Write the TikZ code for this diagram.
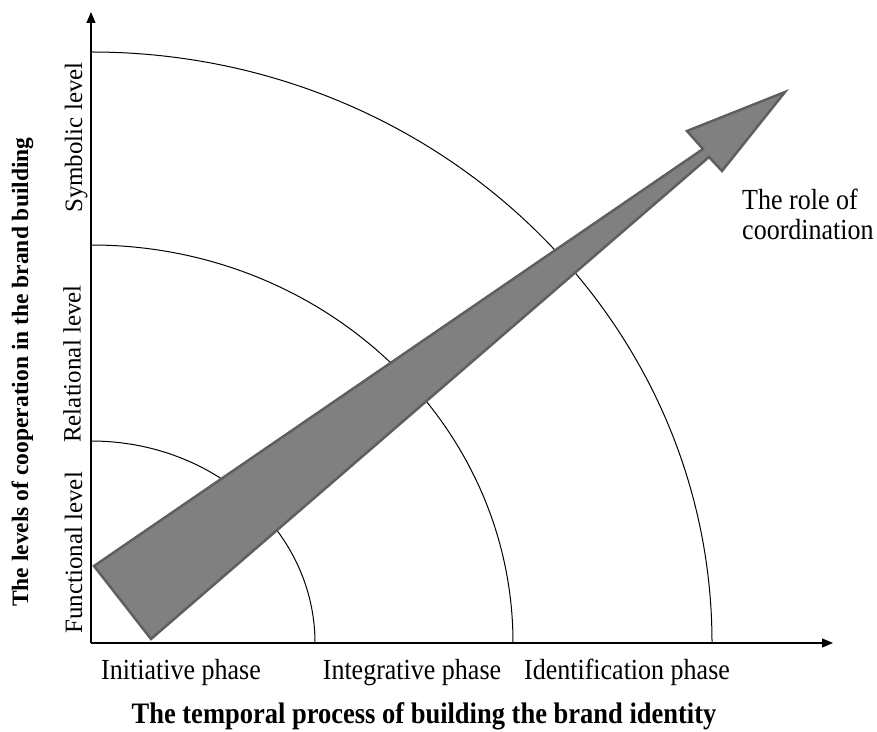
\documentclass[tikz,border=0pt]{standalone}
\usepackage{fontspec}
\setmainfont{Liberation Serif}
\usetikzlibrary{arrows.meta}
\definecolor{arrowfill}{HTML}{808080}
\definecolor{arrowline}{HTML}{5F5F5F}
\begin{document}
\begin{tikzpicture}[x=1pt,y=1pt,
  axisline/.style={line width=1.2pt,-{Triangle[length=11pt,width=9pt]}},
  arcline/.style={line width=1pt},
  lbl/.style={font=\fontsize{26}{31}\selectfont,inner sep=0pt,yscale=1.12},
  vlbl/.style={font=\fontsize{25}{30}\selectfont,inner sep=0pt,rotate=90},
  ttl/.style={font=\fontsize{26.5}{31}\selectfont\bfseries,inner sep=0pt,yscale=1.12},
  vttl/.style={font=\fontsize{23.5}{28}\selectfont\bfseries,inner sep=0pt,rotate=90},
  bigarrow/.style={fill=arrowfill,draw=arrowline,line width=2.5pt,line join=miter}]
\useasboundingbox (0,0) rectangle (877,731);
% origin at pixel (91,643) -> (91,88)
\coordinate (O) at (91,88);
\coordinate (xend) at (833,88);
\coordinate (yend) at (91,719);
\draw[axisline] (O) -- (xend);
\draw[axisline] (O) -- (yend);
% arcs
\draw[arcline] (315,88) arc[start angle=0,end angle=90,x radius=224pt,y radius=202pt];
\draw[arcline] (513,88) arc[start angle=0,end angle=90,x radius=422pt,y radius=398pt];
\draw[arcline] (712,88) arc[start angle=0,end angle=90,x radius=621pt,y radius=591pt];
% big arrow
\coordinate (a1) at (94,165);
\coordinate (a2) at (703,582);
\coordinate (a3) at (687,600);
\coordinate (tip) at (785,639);
\coordinate (a4) at (722,560);
\coordinate (a5) at (709,574);
\coordinate (a6) at (151,92);
\draw[bigarrow] (a1) -- (a2) -- (a3) -- (tip) -- (a4) -- (a5) -- (a6) -- cycle;
% labels
\node[lbl,anchor=base west] (role1) at (742,521) {The role of};
\node[lbl,anchor=base west] (role2) at (742,491) {coordination};
\node[lbl,anchor=base] (p1) at (181,52) {Initiative phase};
\node[lbl,anchor=base] (p2) at (412,52) {Integrative phase};
\node[lbl,anchor=base] (p3) at (627,52) {Identification phase};
\node[ttl,anchor=base] (xt) at (424,8) {The temporal process of building the brand identity};
\node[vlbl,anchor=base west] (l1) at (82,97) {Functional level};
\node[vlbl] (l2) at (72,367) {Relational level};
\node[vlbl,anchor=base east] (l3) at (82,669) {Symbolic level};
\node[vttl,anchor=base west] (yt) at (28,124) {The levels of cooperation in the brand building};
\end{tikzpicture}
\end{document}
